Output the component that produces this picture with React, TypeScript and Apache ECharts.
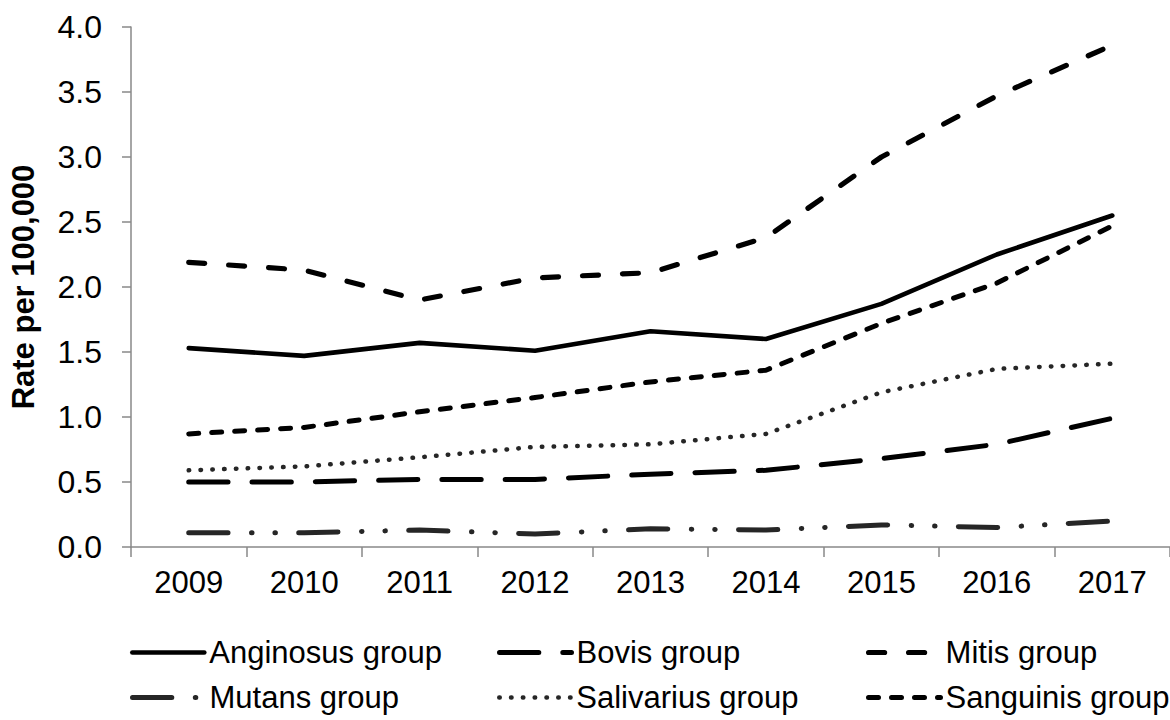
import React, { useEffect, useRef } from "react";
import * as echarts from "echarts";

const years = ["2009", "2010", "2011", "2012", "2013", "2014", "2015", "2016", "2017"];

const anginosus = [1.53, 1.47, 1.57, 1.51, 1.66, 1.6, 1.87, 2.25, 2.55];
const bovis = [0.5, 0.5, 0.52, 0.52, 0.56, 0.59, 0.68, 0.79, 0.99];
const mitis = [2.19, 2.13, 1.9, 2.07, 2.11, 2.38, 3.0, 3.47, 3.86];
const mutans = [0.11, 0.11, 0.13, 0.1, 0.14, 0.13, 0.17, 0.15, 0.2];
const salivarius = [0.59, 0.62, 0.69, 0.77, 0.79, 0.87, 1.19, 1.37, 1.41];
const sanguinis = [0.87, 0.92, 1.04, 1.15, 1.27, 1.36, 1.72, 2.03, 2.47];

const yMin = 0;
const yMax = 4;
const yInterval = 0.5;
const yAxisTitle = "Rate per 100,000";

const FONT = "'Liberation Sans', Arial, Helvetica, sans-serif";
const AXIS_GRAY = "#898989";

type Def = {
  name: string;
  data: number[];
  color: string;
  width: number;
  dash: number[] | "solid";
  legendLeft: number;
  legendTop: number;
};

const defs: Def[] = [
  { name: "Anginosus group", data: anginosus, color: "#000000", width: 4.6, dash: "solid", legendLeft: 130, legendTop: 637 },
  { name: "Bovis group", data: bovis, color: "#000000", width: 5, dash: [39.3, 24], legendLeft: 497, legendTop: 637 },
  { name: "Mitis group", data: mitis, color: "#000000", width: 5.2, dash: [16, 24], legendLeft: 866, legendTop: 637 },
  { name: "Mutans group", data: mutans, color: "#262626", width: 5, dash: [39.3, 23.5, 0.5, 22.9, 0.5, 23.3], legendLeft: 130, legendTop: 682 },
  { name: "Salivarius group", data: salivarius, color: "#262626", width: 4.5, dash: [0.5, 11.3], legendLeft: 497, legendTop: 682 },
  { name: "Sanguinis group", data: sanguinis, color: "#000000", width: 5, dash: [10, 13], legendLeft: 866, legendTop: 682 },
];

export default function App() {
  const ref = useRef<HTMLDivElement>(null);

  useEffect(() => {
    const chart = echarts.init(ref.current as HTMLDivElement, null, { renderer: "svg" });

    const option: any = {
      animation: false,
      backgroundColor: "#ffffff",
      textStyle: { fontFamily: FONT },
      grid: { left: 125, right: -5, top: 27, bottom: 173, containLabel: false },
      legend: defs.map((d) => ({
        data: [d.name],
        left: d.legendLeft,
        top: d.legendTop,
        orient: "horizontal",
        padding: 0,
        itemWidth: 72,
        itemHeight: 14,
        selectedMode: false,
        textStyle: { fontSize: 31, color: "#000000", fontFamily: FONT },
        itemStyle: { opacity: 0, borderWidth: 0 },
        lineStyle: { width: d.width },
      })),
      xAxis: {
        type: "category",
        data: years,
        boundaryGap: true,
        axisLine: { show: true, lineStyle: { color: AXIS_GRAY, width: 1.5 } },
        axisTick: { show: true, length: 10, interval: 0, alignWithLabel: false, lineStyle: { color: AXIS_GRAY, width: 1.5 } },
        axisLabel: { show: true, interval: 0, fontSize: 31, color: "#000000", margin: 20, fontFamily: FONT },
        splitLine: { show: false },
      },
      yAxis: {
        type: "value",
        min: yMin,
        max: yMax,
        interval: yInterval,
        name: yAxisTitle,
        nameLocation: "middle",
        nameGap: 92,
        nameTextStyle: { fontSize: 31, fontWeight: "bold", color: "#000000", fontFamily: FONT },
        axisLine: { show: true, lineStyle: { color: AXIS_GRAY, width: 1.5 } },
        axisTick: { show: true, length: 9, lineStyle: { color: AXIS_GRAY, width: 1.5 } },
        axisLabel: {
          fontSize: 32,
          color: "#000000",
          margin: 29,
          fontFamily: FONT,
          formatter: (v: number) => v.toFixed(1),
        },
        splitLine: { show: false },
      },
      series: defs.map((d) => ({
        name: d.name,
        type: "line",
        data: d.data,
        symbol: "none",
        showSymbol: false,
        smooth: false,
        color: d.color,
        lineStyle: { color: d.color, width: d.width, type: d.dash, cap: "round", join: "round" },
        emphasis: { disabled: true },
      })),
    };

    chart.setOption(option);
    return () => chart.dispose();
  }, []);

  return (
    <div
      ref={ref}
      style={{ position: "absolute", left: 0, top: 0, width: 1170, height: 720, background: "#ffffff" }}
    />
  );
}
